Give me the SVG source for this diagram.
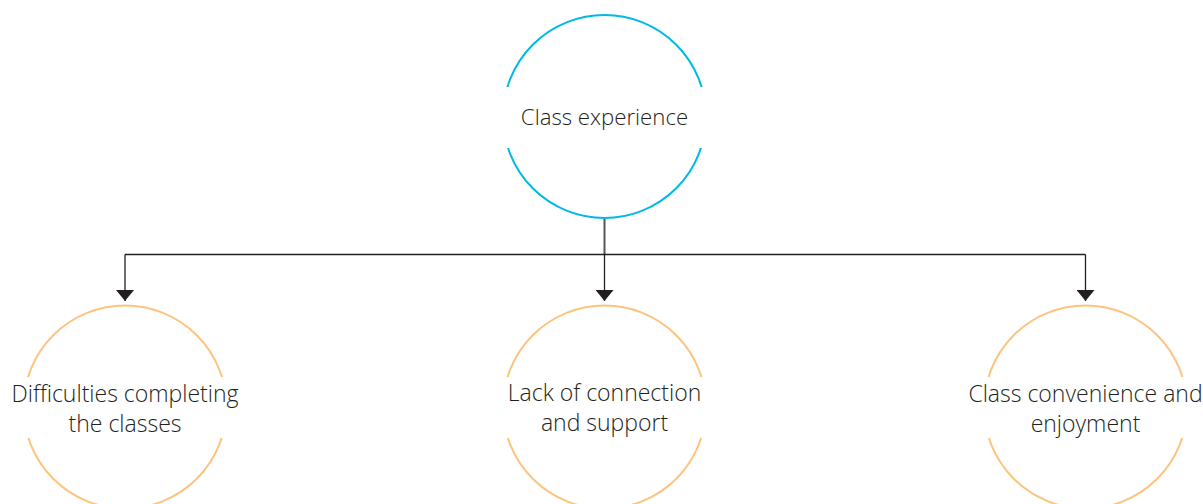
<svg xmlns="http://www.w3.org/2000/svg" width="1203" height="504" viewBox="0 0 1203 504">
<style>
.top{fill:none;stroke:#00b9e4;stroke-width:2}
.sub{fill:none;stroke:#fcc47f;stroke-width:2}
.mask{fill:#ffffff;stroke:none}
.lbl{font-family:"Open Sans","Liberation Sans",sans-serif;font-weight:300;font-size:23px;fill:#231f20;text-anchor:middle}
.conn{fill:none;stroke:#231f20;stroke-width:1.3}
</style>
<defs>
<marker id="arr" markerWidth="18" markerHeight="12" refX="9" refY="11" orient="0" markerUnits="userSpaceOnUse">
<path d="M0,0 L18,0 L9,11 Z" fill="#231f20"/>
</marker>
</defs>
<rect width="1203" height="504" fill="#ffffff"/>
<g id="connectors">
<path class="conn" d="M604.5,218 V254.5" style="stroke:#555;stroke-width:2"/>
<path class="conn" d="M125,254.5 H1085.5"/>
<path class="conn" d="M125,254.5 V301" marker-end="url(#arr)"/>
<path class="conn" d="M604.5,254.5 V301" marker-end="url(#arr)"/>
<path class="conn" d="M1085.5,254.5 V301" marker-end="url(#arr)"/>
</g>
<g id="node-class-experience">
<circle class="top" cx="604.5" cy="116.5" r="101.5"/>
<rect class="mask" x="495" y="87" width="220" height="61"/>
<text class="lbl" x="604.5" y="125" style="font-size:22.2px">Class experience</text>
</g>
<g id="node-difficulties">
<circle class="sub" cx="125" cy="407" r="101.5"/>
<rect class="mask" x="15" y="377" width="220" height="61"/>
<text class="lbl" x="125" y="401.5">Difficulties completing</text>
<text class="lbl" x="125" y="431.5">the classes</text>
</g>
<g id="node-lack">
<circle class="sub" cx="604.5" cy="407" r="101.5"/>
<rect class="mask" x="495" y="377" width="220" height="61"/>
<text class="lbl" x="604.5" y="401">Lack of connection</text>
<text class="lbl" x="604.5" y="431">and support</text>
</g>
<g id="node-convenience">
<circle class="sub" cx="1085.5" cy="407" r="101.5"/>
<rect class="mask" x="975" y="377" width="220" height="61"/>
<text class="lbl" x="1085.5" y="401.5">Class convenience and</text>
<text class="lbl" x="1085.5" y="431.5">enjoyment</text>
</g>
</svg>
